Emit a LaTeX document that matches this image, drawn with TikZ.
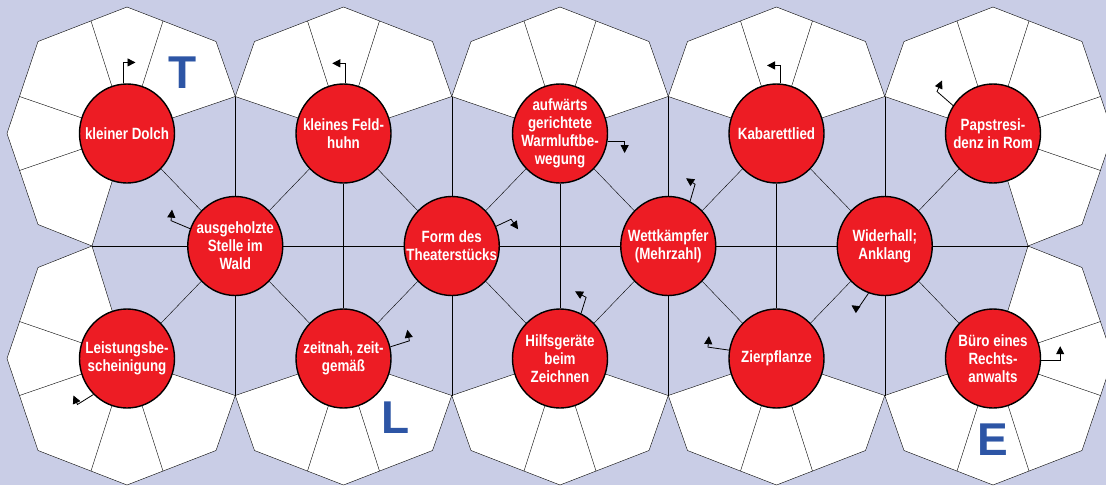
\documentclass[tikz,border=0pt]{standalone}
\usepackage{fontspec}
\setmainfont{Liberation Sans}
\newfontfamily\clueface[FakeStretch=0.82]{Liberation Sans}
\usepackage{tikz}
\usetikzlibrary{arrows.meta,shapes.geometric,backgrounds}
\definecolor{GridLilac}{RGB}{201,205,230}
\definecolor{ClueRed}{RGB}{237,28,36}
\definecolor{LetterBlue}{RGB}{45,85,165}

\begin{document}
\begin{tikzpicture}[x=1pt,y=-1pt,line width=1.4pt,
  clue/.style={ellipse,draw,fill=ClueRed,minimum width=95pt,minimum height=99pt,inner sep=-30pt,
    text=white,align=center,font=\clueface\bfseries\fontsize{16.3}{18}\selectfont},
  hint/.style={line width=.8pt,-{Triangle[length=8pt,width=8pt]}},
  letter/.style={text=LetterBlue,font=\bfseries\fontsize{46}{46}\selectfont},
  cell/.style={draw,fill=white}]
  \useasboundingbox (0,0) rectangle (1106,485);
  \node[clue] (t0) at (127,133.5) {kleiner Dolch};
  \node[clue] (t1) at (343.5,133.5) {kleines Feld-\\huhn};
  \node[clue] (t2) at (560,133.5) {aufwärts\\gerichtete\\Warmluftbe-\\wegung};
  \node[clue] (t3) at (776.5,133.5) {Kabarettlied};
  \node[clue] (t4) at (993,133.5) {Papstresi-\\denz in Rom};
  \node[clue] (m0) at (235.25,246) {ausgeholzte\\Stelle im\\Wald};
  \node[clue] (m1) at (451.75,246) {Form des\\Theaterstücks};
  \node[clue] (m2) at (668.25,246) {Wettkämpfer\\(Mehrzahl)};
  \node[clue] (m3) at (884.75,246) {Widerhall;\\Anklang};
  \node[clue] (b0) at (127,358.5) {Leistungsbe-\\scheinigung};
  \node[clue] (b1) at (343.5,358.5) {zeitnah, zeit-\\gemäß};
  \node[clue] (b2) at (560,358.5) {Hilfsgeräte\\beim\\Zeichnen};
  \node[clue] (b3) at (776.5,358.5) {Zierpflanze};
  \node[clue] (b4) at (993,358.5) {Büro eines\\Rechts-\\anwalts};
  \node[letter] (lT) at (183,73) {T};
  \node[letter] (lL) at (396,418) {L};
  \node[letter] (lE) at (993,440) {E};
  \begin{scope}[on background layer]
    \clip (0,0) rectangle (1106,485);
    \fill[GridLilac] (0,0) rectangle (1106,485);
    \foreach \x in {343.5,560,776.5}
      \foreach \y/\s in {133.5/1,358.5/-1} {
        \begin{scope}[shift={(\x,\y)},yscale=\s]
          \filldraw[cell] (108.25,-37) -- (89,-92) -- (0,-126.5) -- (-89,-92) -- (-108.25,-37) -- (0,0) -- cycle;
          \draw (0,0) -- (36,-112.5) (0,0) -- (-36,-112.5);
        \end{scope}}
    \foreach \x/\s in {127/1,993/-1}
      \foreach \y/\t in {133.5/1,358.5/-1} {
        \begin{scope}[shift={(\x,\y)},xscale=\s,yscale=\t]
          \filldraw[cell] (108.25,-37) -- (89,-92) -- (0,-126.5) -- (-89,-92) -- (-120,0) -- (-89,91) -- (-35,112.5) -- (0,0) -- cycle;
          \draw (0,0) -- (36,-112.5) (0,0) -- (-36,-112.5) (0,0) -- (-107.5,-37) (0,0) -- (-107.5,37);
        \end{scope}}
    \coordinate (hl) at (92,246);
    \coordinate (hr) at (1029,246);
    \draw (hl) -- (m0) -- (m1) -- (m2) -- (m3) -- (hr);
    \foreach \j/\x in {0/235.25,1/451.75,2/668.25,3/884.75} {
      \coordinate (jt\j) at (\x,96.5);
      \coordinate (jb\j) at (\x,395.5);
      \draw (jt\j) -- (m\j) -- (jb\j);
    }
    \foreach \i in {1,2,3} \draw (t\i) -- (b\i);
    \foreach \i/\j in {0/0,1/0,1/1,2/1,2/2,3/2,3/3,4/3}
      \draw (t\i) -- (m\j) (m\j) -- (b\i);
  \end{scope}
  \draw[hint] (t0.94) -- ++(0,-21) -- ++(12,0);
  \draw[hint] (t1.88) -- ++(0,-20) -- ++(-13,0);
  \draw[hint] (t2.-9) -- ++(17,0) -- ++(0,12);
  \draw[hint] (t3.86) -- ++(0,-18) -- ++(-13,0);
  \draw[hint] (t4.145) -- ++(-16,-14) -- ++(5,-11);
  \draw[hint] (m0.159) -- ++(-19,-8) -- ++(1,-11);
  \draw[hint] (m1.24) -- ++(15,-7) -- ++(7,10);
  \draw[hint] (m2.64) -- ++(5,-17) -- ++(-9,-6);
  \draw[hint] (m3.-109) -- ++(-11,16) -- ++(-6,-4);
  \draw[hint] (b0.227) -- ++(-16,10) -- ++(-4,-9);
  \draw[hint] (b1.14) -- ++(19,-6) -- ++(-2,-11);
  \draw[hint] (b2.65) -- ++(5,-16) -- ++(-11,-6);
  \draw[hint] (b3.170) -- ++(-21,-3) -- ++(1,-11);
  \draw[hint] (b4.-2) -- ++(19,0) -- ++(0,-14);
\end{tikzpicture}
\end{document}
